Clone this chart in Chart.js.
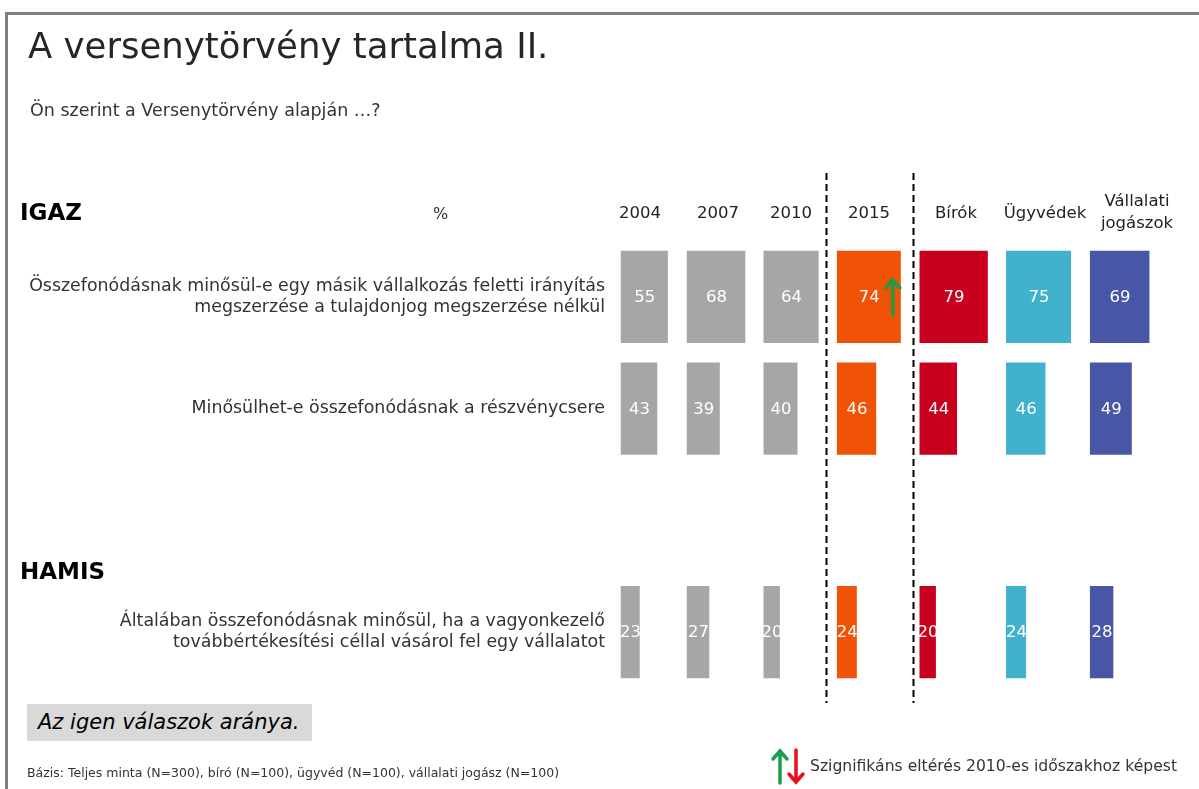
<!DOCTYPE html>
<html>
<head>
<meta charset="utf-8">
<script src="https://cdn.jsdelivr.net/npm/chart.js@4.4.1/dist/chart.umd.min.js"></script>
<style>
  body { margin: 0; background: #fff; font-family: "DejaVu Sans", Verdana, sans-serif; color: #333; }
  #wrap { position: relative; width: 1199px; height: 789px; overflow: hidden; }
  #frame { position: absolute; left: 5px; top: 12px; width: 1200px; height: 800px; border-left: 3px solid #7f7f7f; border-top: 3px solid #7f7f7f; }
  canvas { position: absolute; left: 0; top: 0; }
  .t { position: absolute; white-space: nowrap; }
  #title { left: 28px; top: 25px; font-size: 35.5px; color: #262626; }
  #sub { left: 30px; top: 100px; font-size: 17.5px; color: #333; }
  .hd { left: 20px; font-size: 23px; font-weight: bold; color: #000; }
  #pct { left: 433px; top: 204px; font-size: 16px; }
  #box { left: 27px; top: 704px; width: 285px; height: 37px; background: #d9d9d9; font-size: 21px; font-style: italic; color: #000; line-height: 37px; padding-left: 11px; box-sizing: border-box; }
  #foot { left: 27px; top: 765px; font-size: 12.5px; color: #333; }
  #leg { left: 810px; top: 757px; font-size: 15.6px; color: #333; }
</style>
</head>
<body>
<div id="wrap">
  <div id="frame"></div>
  <canvas id="c" width="1199" height="789"></canvas>
  <div class="t" id="title">A versenytörvény tartalma II.</div>
  <div class="t" id="sub">Ön szerint a Versenytörvény alapján …?</div>
  <div class="t hd" style="top:199px">IGAZ</div>
  <div class="t hd" style="top:558px">HAMIS</div>
  <div class="t" id="pct">%</div>
  <div class="t" id="box">Az igen válaszok aránya.</div>
  <div class="t" id="foot">Bázis: Teljes minta (N=300), bíró (N=100), ügyvéd (N=100), vállalati jogász (N=100)</div>
  <div class="t" id="leg">Szignifikáns eltérés 2010-es időszakhoz képest</div>
</div>
<script>
// rows (third slot is the gap where HAMIS sits)
var categories = [
  ['Összefonódásnak minősül-e egy másik vállalkozás feletti irányítás', 'megszerzése a tulajdonjog megszerzése nélkül'],
  'Minősülhet-e összefonódásnak a részvénycsere',
  '',
  ['Általában összefonódásnak minősül, ha a vagyonkezelő', 'továbbértékesítési céllal vásárol fel egy vállalatot']
];
var columns = ['2004', '2007', '2010', '2015', 'Bírók', 'Ügyvédek', ['Vállalati', 'jogászok']];

var v2004 = [55, 43, null, 23];
var v2007 = [68, 39, null, 27];
var v2010 = [64, 40, null, 20];
var v2015 = [74, 46, null, 24];
var vBirok = [79, 44, null, 20];
var vUgyved = [75, 46, null, 24];
var vJogasz = [69, 49, null, 28];
var sig2015 = ['up', null, null, null];

var colors = ['#a6a6a6', '#a6a6a6', '#a6a6a6', '#f05206', '#c8001e', '#40b2cc', '#4856a6'];
var series = [v2004, v2007, v2010, v2015, vBirok, vUgyved, vJogasz];

// layout
var colStart = [620.5, 686.5, 763.3, 836.7, 919.3, 1006, 1089.7];
var headX = [640, 718, 791, 869, 956, 1045, 1137];
var areaLeft = 614, areaRight = 1199, pxPerUnit = 0.88;

var scales = {
  y: {
    type: 'category',
    grid: { display: false, drawTicks: false },
    border: { display: false },
    ticks: { color: '#333', font: { family: 'DejaVu Sans', size: 17.4, lineHeight: 1.22 }, padding: 9 },
    afterFit: function (s) { s.width = areaLeft; }
  }
};
var datasets = [];
for (var i = 0; i < series.length; i++) {
  var mn = -(colStart[i] - areaLeft) / pxPerUnit;
  scales['x' + i] = { type: 'linear', display: false, min: mn, max: mn + (areaRight - areaLeft) / pxPerUnit };
  datasets.push({
    data: series[i],
    xAxisID: 'x' + i,
    backgroundColor: colors[i],
    borderColor: 'rgba(255,255,255,0.5)',
    borderWidth: 1,
    grouped: false,
    barPercentage: 0.842,
    categoryPercentage: 1
  });
}

function arrow(ctx, x, y1, y2, color) {
  // tip at y1
  var dir = y2 > y1 ? 1 : -1;
  ctx.save();
  ctx.strokeStyle = color;
  ctx.lineWidth = 3.5;
  ctx.lineCap = 'round';
  ctx.beginPath();
  ctx.moveTo(x, y2);
  ctx.lineTo(x, y1 + dir * 1);
  ctx.moveTo(x - 7, y1 + dir * 9);
  ctx.lineTo(x, y1 + dir * 1);
  ctx.lineTo(x + 7, y1 + dir * 9);
  ctx.stroke();
  ctx.restore();
}

var extras = {
  id: 'extras',
  afterDatasetsDraw: function (chart) {
    var ctx = chart.ctx;
    ctx.save();
    // values in bars
    ctx.fillStyle = '#fff';
    ctx.font = '16.5px "DejaVu Sans"';
    ctx.textAlign = 'center';
    ctx.textBaseline = 'middle';
    chart.data.datasets.forEach(function (ds, di) {
      chart.getDatasetMeta(di).data.forEach(function (el, j) {
        if (ds.data[j] == null) return;
        ctx.fillText(ds.data[j], (el.x + el.base) / 2, el.y + 1);
      });
    });
    // significance arrows (2015 vs 2010)
    var meta = chart.getDatasetMeta(3);
    sig2015.forEach(function (s, j) {
      if (!s) return;
      var el = meta.data[j];
      if (s === 'up') arrow(ctx, el.x - 9, el.y - 18, el.y + 18, '#1a9e4a');
      else arrow(ctx, el.x - 9, el.y + 18, el.y - 18, '#e8101a');
    });
    // column headers
    ctx.fillStyle = '#222';
    ctx.font = '16.5px "DejaVu Sans"';
    columns.forEach(function (c, i) {
      if (Array.isArray(c)) {
        ctx.fillText(c[0], headX[i], 202);
        ctx.fillText(c[1], headX[i], 224);
      } else {
        ctx.fillText(c, headX[i], 214);
      }
    });
    // dashed separators
    ctx.strokeStyle = '#000';
    ctx.lineWidth = 2;
    ctx.setLineDash([7, 4]);
    [826.5, 913.5].forEach(function (x) {
      ctx.beginPath();
      ctx.moveTo(x, 173);
      ctx.lineTo(x, 703);
      ctx.stroke();
    });
    ctx.setLineDash([]);
    // legend arrows
    arrow(ctx, 780, 750, 783, '#1a9e4a');
    arrow(ctx, 796, 783, 750, '#e8101a');
    ctx.restore();
  }
};

new Chart(document.getElementById('c'), {
  type: 'bar',
  data: { labels: categories, datasets: datasets },
  options: {
    indexAxis: 'y',
    responsive: false,
    animation: false,
    layout: { padding: { top: 241, bottom: 101, left: 0, right: 0 } },
    plugins: { legend: { display: false }, tooltip: { enabled: false } },
    scales: scales
  },
  plugins: [extras]
});
</script>
</body>
</html>
